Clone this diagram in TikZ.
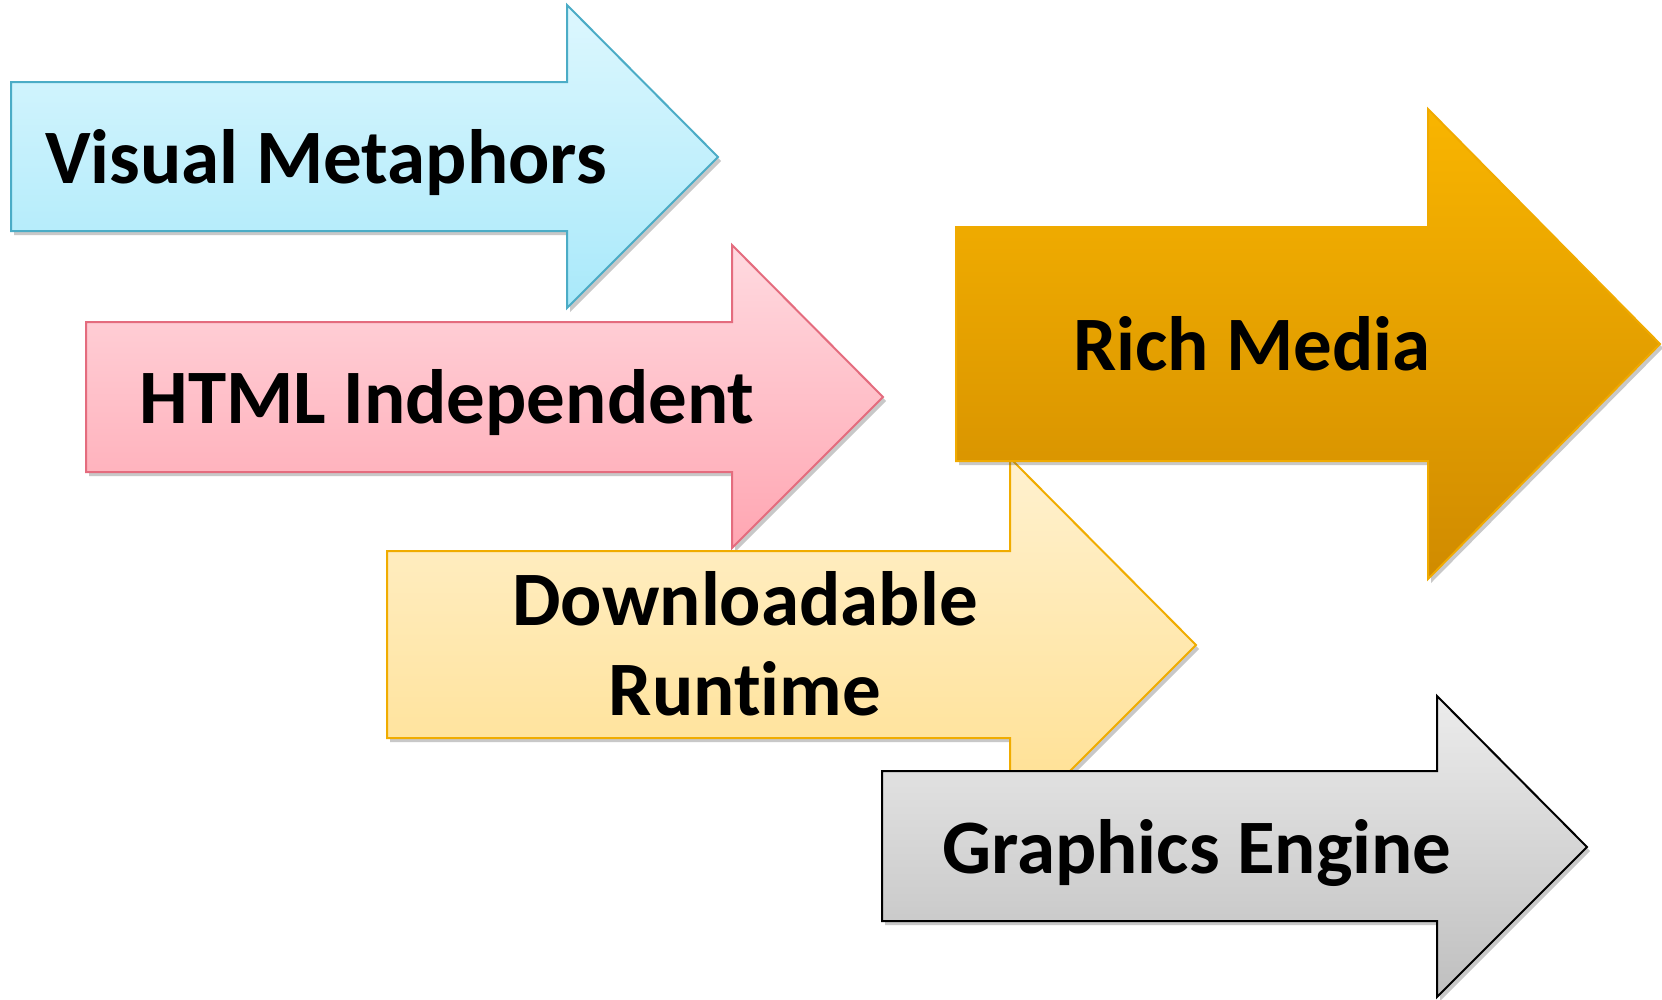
\documentclass[tikz,border=0pt]{standalone}
\usepackage{fontspec}
\setmainfont{Carlito}[Ligatures=NoCommon]
\usetikzlibrary{shadows}
\definecolor{blueTop}{HTML}{DDF7FE}
\definecolor{blueBot}{HTML}{A9E9FA}
\definecolor{blueLine}{HTML}{4BACC6}
\definecolor{pinkTop}{HTML}{FFDAE0}
\definecolor{pinkBot}{HTML}{FFA6B2}
\definecolor{pinkLine}{HTML}{E46C7E}
\definecolor{yelTop}{HTML}{FFF1CF}
\definecolor{yelBot}{HTML}{FFDF8E}
\definecolor{yelLine}{HTML}{F0AC00}
\definecolor{richTop}{HTML}{F9B500}
\definecolor{richBot}{HTML}{D08B00}
\definecolor{richLine}{HTML}{F0AA00}
\definecolor{grayTop}{HTML}{ECECEC}
\definecolor{grayBot}{HTML}{BFBFBF}
\begin{document}
\begin{tikzpicture}[x=1pt,y=-1pt,
  arrowshape/.style={line width=2pt, line join=miter,
    drop shadow={shadow xshift=3pt,shadow yshift=-4pt,opacity=0.3,fill=black!70}},
  lbl/.style={font=\fontsize{77}{90}\selectfont\bfseries, inner sep=0pt, anchor=base, align=center},
]
\useasboundingbox[fill=white] (0,0) rectangle (1662,999);

% Visual Metaphors
\path[arrowshape, draw=blueLine, top color=blueTop, bottom color=blueBot]
  (11,82) -- (567,82) -- (567,5) -- (718,157) -- (567,308) -- (567,231) -- (11,231) -- cycle;
\node[lbl] (vm) at (326,183) {Visual Metaphors};

% HTML Independent
\path[arrowshape, draw=pinkLine, top color=pinkTop, bottom color=pinkBot]
  (86,322) -- (732,322) -- (732,245) -- (883,397) -- (732,548) -- (732,472) -- (86,472) -- cycle;
\node[lbl] (html) at (447,423) {HTML Independent};

% Downloadable Runtime
\path[arrowshape, draw=yelLine, top color=yelTop, bottom color=yelBot]
  (387,551) -- (1010,551) -- (1010,458) -- (1196,645) -- (1010,831) -- (1010,738) -- (387,738) -- cycle;
\node[lbl] (dr) at (745,715) {Downloadable\\Runtime};

% Rich Media
\path[arrowshape, draw=richLine, top color=richTop, bottom color=richBot]
  (956,227) -- (1428,227) -- (1428,109) -- (1660,344) -- (1428,579) -- (1428,461) -- (956,461) -- cycle;
\node[lbl] (rm) at (1252,370) {Rich Media};

% Graphics Engine
\path[arrowshape, draw=black, top color=grayTop, bottom color=grayBot]
  (882,771) -- (1437,771) -- (1437,696) -- (1587,847) -- (1437,997) -- (1437,921) -- (882,921) -- cycle;
\node[lbl] (ge) at (1197,873) {Graphics Engine};
\end{tikzpicture}
\end{document}
